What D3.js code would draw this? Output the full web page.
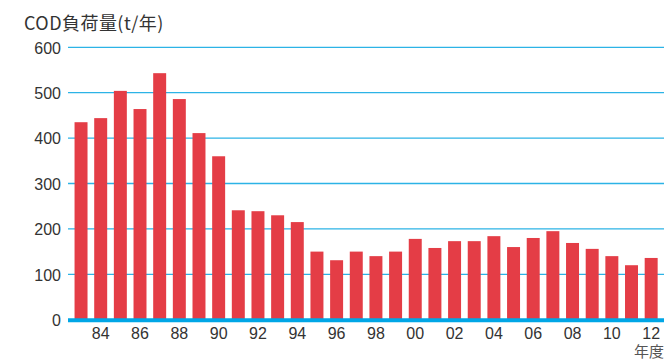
<!DOCTYPE html>
<html><head><meta charset="utf-8">
<script src="https://cdn.jsdelivr.net/npm/d3@7"></script>
<style>body{margin:0;background:#fff}</style>
</head><body>
<svg id="c" width="668" height="361"></svg>
<script>
const years = ["83","84","85","86","87","88","89","90","91","92","93","94","95","96","97","98","99","00","01","02","03","04","05","06","07","08","09","10","11","12"];
const values = [435,444,504,464,543,486,411,360,241,239,230,215,150,131,150,140,150,178,158,173,173,184,160,180,195,169,156,140,120,136];
const yTicks = [0,100,200,300,400,500,600];
const xTickLabels = ["84","86","88","90","92","94","96","98","00","02","04","06","08","10","12"];

const svg = d3.select("#c");
const font = "'Liberation Sans', Arial, 'Noto Sans CJK JP', sans-serif";
const jfont = "'Noto Sans CJK JP', sans-serif";
const x = d3.scaleBand().domain(years).range([71.2, 661]).paddingInner(0.34).paddingOuter(0.17);
const y = d3.scaleLinear().domain([0, 600]).range([319.7, 47.3]);

// grid
svg.append("g").selectAll("line").data(yTicks.filter(d => d > 0)).join("line")
  .attr("x1", 68).attr("x2", 664)
  .attr("y1", d => y(d)).attr("y2", d => y(d))
  .attr("stroke", "#2cb3e6").attr("stroke-width", 1.3);

// bars
svg.append("g").selectAll("rect").data(values).join("rect")
  .attr("x", (d, i) => x(years[i]))
  .attr("width", x.bandwidth())
  .attr("y", d => y(d))
  .attr("height", d => y(0) - y(d))
  .attr("fill", "#e43d46");

// baseline
svg.append("line").attr("x1", 68).attr("x2", 664)
  .attr("y1", y(0) + 0.5).attr("y2", y(0) + 0.5)
  .attr("stroke", "#00a6e6").attr("stroke-width", 4);

// y axis labels
const yAxis = d3.axisLeft(y).tickValues(yTicks).tickSize(0).tickPadding(0);
const gy = svg.append("g").attr("transform", "translate(61,0)").call(yAxis);
gy.select(".domain").remove();
gy.selectAll("text").attr("font-size", 16).attr("font-family", font).attr("fill", "#333").attr("dy", "0.36em");

// x axis labels
const xAxis = d3.axisBottom(x).tickValues(xTickLabels).tickSize(0).tickPadding(0);
const gx = svg.append("g").attr("transform", "translate(0,327)").call(xAxis);
gx.select(".domain").remove();
gx.selectAll("text").attr("font-size", 16).attr("font-family", font).attr("fill", "#333").attr("dy", "0.72em");

// titles
svg.append("text").attr("x", 24).attr("y", 30).text("COD負荷量(t/年)")
  .attr("font-size", 18).attr("letter-spacing", 0.45).attr("font-family", jfont).attr("fill", "#333");
svg.append("text").attr("x", 664).attr("y", 357).attr("text-anchor", "end").text("年度")
  .attr("font-size", 15).attr("font-family", jfont).attr("fill", "#555");
</script>
</body></html>
